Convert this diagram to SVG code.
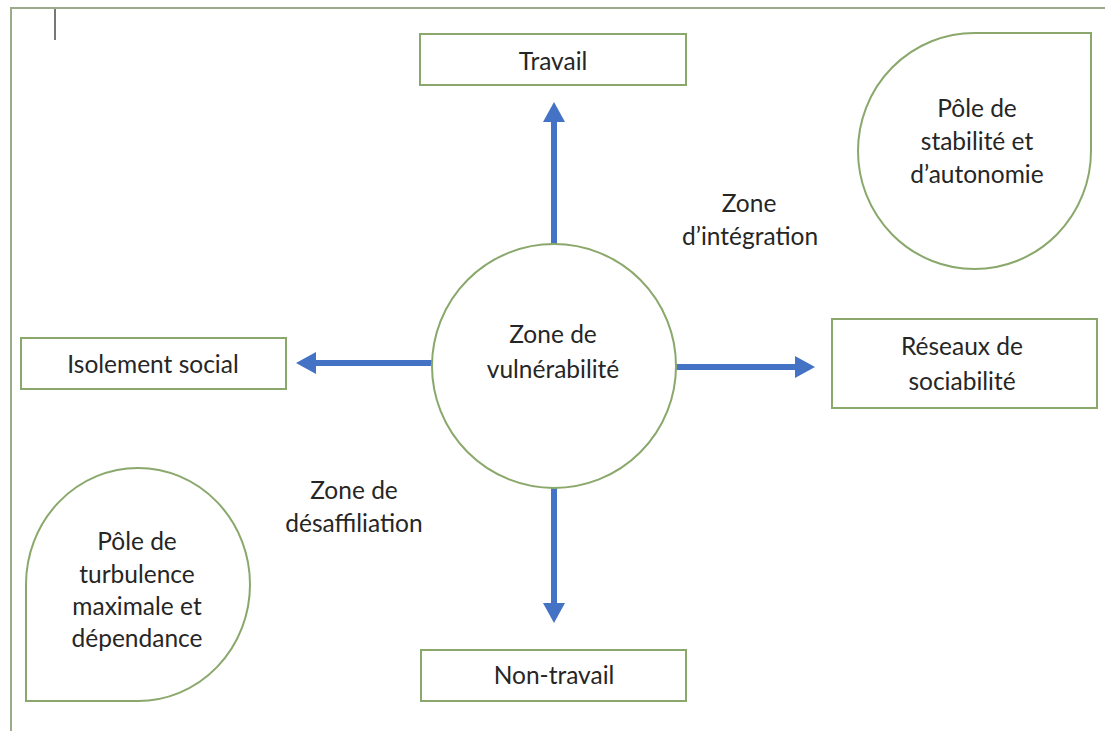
<svg xmlns="http://www.w3.org/2000/svg" width="1105" height="731" viewBox="0 0 1105 731">
<defs>
<style>
.box{fill:#fff;stroke:#8aa86c;stroke-width:2}
.frame{fill:none;stroke:#9aab88;stroke-width:2}
.lbl{font-family:Lato,"Liberation Sans",sans-serif;font-size:24.5px;fill:#262626;text-anchor:middle}
.arr{stroke:#4472c4;stroke-width:6;fill:none;marker-end:url(#ah)}
</style>
<marker id="ah" markerUnits="userSpaceOnUse" viewBox="0 0 20 22" markerWidth="20" markerHeight="22" refX="0" refY="11" orient="auto">
<path d="M0,0 L20,11 L0,22 Z" fill="#4472c4"/>
</marker>
</defs>
<rect width="1105" height="731" fill="#fff"/>
<rect class="frame" x="11" y="8" width="1120" height="760"/>
<line x1="55" y1="9" x2="55" y2="40" stroke="#777" stroke-width="2"/>
<g id="connectors">
<line class="arr" x1="554" y1="245" x2="554" y2="122"/>
<line class="arr" x1="554" y1="488" x2="554" y2="603"/>
<line class="arr" x1="676" y1="367" x2="795" y2="367"/>
<line class="arr" x1="432" y1="363" x2="316" y2="363"/>
</g>
<g id="travail">
<rect class="box" x="420" y="34" width="266" height="51"/>
<text class="lbl" x="553" y="70">Travail</text>
</g>
<g id="non-travail">
<rect class="box" x="421" y="650" width="265" height="51"/>
<text class="lbl" x="554" y="684">Non-travail</text>
</g>
<g id="isolement">
<rect class="box" x="21" y="338" width="265" height="51"/>
<text class="lbl" x="153" y="373">Isolement social</text>
</g>
<g id="reseaux">
<rect class="box" x="832" y="319" width="265" height="89"/>
<text class="lbl" x="962" y="355">Réseaux de</text>
<text class="lbl" x="962" y="390">sociabilité</text>
</g>
<g id="vulnerabilite">
<circle class="box" cx="554" cy="366" r="122"/>
<text class="lbl" x="553" y="343">Zone de</text>
<text class="lbl" x="553" y="378">vulnérabilité</text>
</g>
<g id="integration">
<text class="lbl" x="749" y="212">Zone</text>
<text class="lbl" x="750" y="245">d’intégration</text>
</g>
<g id="desaffiliation">
<text class="lbl" x="354" y="499">Zone de</text>
<text class="lbl" x="354" y="532">désaffiliation</text>
</g>
<g id="pole-stabilite">
<path class="box" d="M974.5,33 L1091,33 L1091,151 A116.5,118 0 1 1 974.5,33 Z"/>
<text class="lbl" x="977" y="117">Pôle de</text>
<text class="lbl" x="977" y="150">stabilité et</text>
<text class="lbl" x="977" y="183">d’autonomie</text>
</g>
<g id="pole-turbulence">
<path class="box" d="M26,584.5 A112,116.5 0 1 1 138,701 L26,701 Z"/>
<text class="lbl" x="137" y="550">Pôle de</text>
<text class="lbl" x="137" y="583">turbulence</text>
<text class="lbl" x="137" y="615">maximale et</text>
<text class="lbl" x="137" y="647">dépendance</text>
</g>
</svg>
